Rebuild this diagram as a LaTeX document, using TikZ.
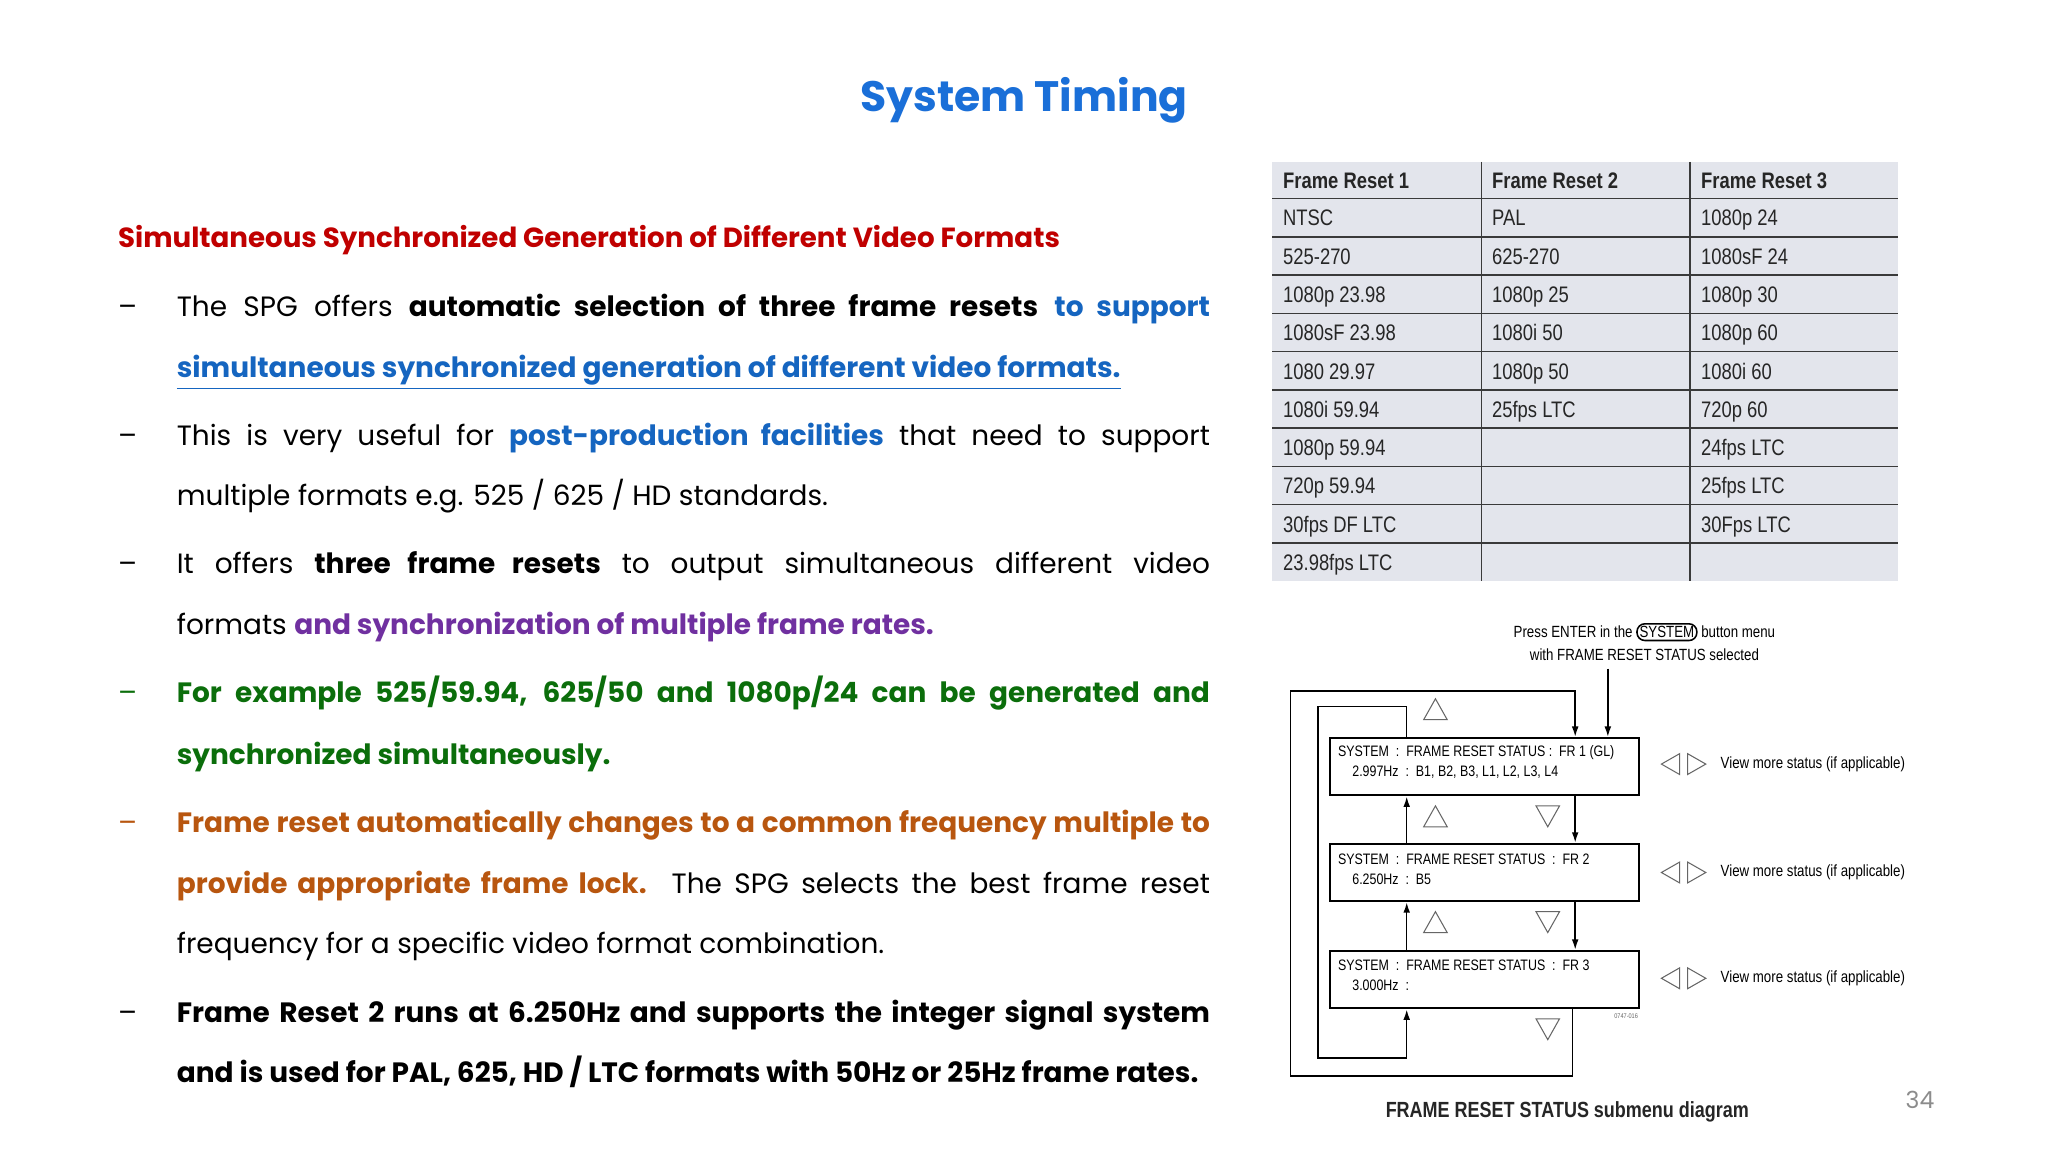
\documentclass[tikz,border=0pt]{standalone}
\usepackage{fontspec}
\setmainfont{Poppins}
\newfontfamily\narrow[FakeStretch=0.82]{Liberation Sans}
\usetikzlibrary{arrows.meta}
\definecolor{ttl}{HTML}{1A6FD8}
\definecolor{hred}{HTML}{C00000}
\definecolor{lnk}{HTML}{1565C0}
\definecolor{purp}{HTML}{7030A0}
\definecolor{grn}{HTML}{0B6E0B}
\definecolor{org}{HTML}{B8560F}
\definecolor{tbl}{HTML}{E3E5EC}
\definecolor{tline}{HTML}{3A3A3A}
\newcommand\jl[3]{\node[anchor=base west,inner sep=0] (#1) at (135,#2) {\makebox[395.5pt][s]{#3}};}
\newcommand\fl[3]{\node[anchor=base west,inner sep=0] (#1) at (135,#2) {#3};}
\newcommand\dsh[3]{\node[anchor=base west,inner sep=0,text=#3] (#1) at (90,#2) {–};}
\newcommand\uptri[2]{\draw[tri] (#1-9,#2+8) -- (#1,#2-8) -- (#1+9,#2+8) -- cycle;}
\newcommand\dntri[2]{\draw[tri] (#1-9,#2-8) -- (#1,#2+8) -- (#1+9,#2-8) -- cycle;}
\newcommand\lrtri[2]{\draw[tri] (#1-17,#2) -- (#1-3,#2-8) -- (#1-3,#2+8) -- cycle;
  \draw[tri] (#1+17,#2) -- (#1+3,#2-8) -- (#1+3,#2+8) -- cycle;}
\begin{document}
\begin{tikzpicture}[x=0.5pt,y=-0.5pt,
  body/.style={font=\fontsize{10.7}{13}\selectfont},
  cell/.style={anchor=base west,inner sep=0,font=\narrow\fontsize{8.6}{10}\selectfont,text=black!85},
  box/.style={draw,line width=0.8pt,minimum width=118.5pt,minimum height=22pt,inner sep=0},
  btxt/.style={anchor=west,inner sep=0,font=\narrow\fontsize{5.8}{7}\selectfont},
  tri/.style={draw=black!60,line width=0.4pt},
  ln/.style={line width=0.6pt},
  arr/.style={line width=0.6pt,-{Latex[length=4pt,width=2.6pt]}}]
\useasboundingbox (0,0) rectangle (1568,882);
\fill[white] (0,0) rectangle (1568,882);
\node[font=\bfseries\fontsize{16.3}{20}\selectfont,text=ttl] (title) at (784,77) {System Timing};
\node[anchor=west,inner sep=0,font=\bfseries\fontsize{10.6}{13}\selectfont,text=hred] (head) at (90,184) {Simultaneous Synchronized Generation of Different Video Formats};
\begin{scope}[every node/.append style={body}]
\dsh{d1}{242}{black}
\jl{l1}{242}{The SPG offers \textbf{automatic selection of three frame resets} \textcolor{lnk}{\textbf{to support}}}
\fl{l2}{289}{\textcolor{lnk}{\bfseries\underline{simultaneous synchronized generation of different video formats.}}}
\dsh{d2}{341}{black}
\jl{l3}{341}{This is very useful for \textcolor{lnk}{\textbf{post-production facilities}} that need to support}
\fl{l4}{387}{multiple formats e.g. 525 / 625 / HD standards.}
\dsh{d3}{439}{black}
\jl{l5}{439}{It offers \textbf{three frame resets} to output simultaneous different video}
\fl{l6}{486}{formats \textcolor{purp}{\textbf{and synchronization of multiple frame rates.}}}
\dsh{d4}{538}{grn}
\jl{l7}{538}{\color{grn}\bfseries For example 525/59.94, 625/50 and 1080p/24 can be generated and}
\fl{l8}{585}{\color{grn}\bfseries synchronized simultaneously.}
\dsh{d5}{637}{org}
\jl{l9}{637}{\color{org}\bfseries Frame reset automatically changes to a common frequency multiple to}
\jl{l10}{684}{\textcolor{org}{\textbf{provide appropriate frame lock.}} The SPG selects the best frame reset}
\fl{l11}{730}{frequency for a specific video format combination.}
\dsh{d6}{783}{black}
\jl{l12}{783}{\bfseries Frame Reset 2 runs at 6.250Hz and supports the integer signal system}
\fl{l13}{829}{\bfseries and is used for PAL, 625, HD / LTC formats with 50Hz or 25Hz frame rates.}
\end{scope}
% table
\fill[tbl] (974,124) rectangle (1453,445);
\foreach \y in {152,181.3,210.6,239.9,269.2,298.5,327.8,357.1,386.4,415.7} \draw[tline,line width=0.6pt] (974,\y) -- (1453,\y);
\draw[tline,line width=0.5pt] (1134,124) -- (1134,445) (1294,124) -- (1294,445);
\node[cell] (h1) at (982,144) {\bfseries Frame Reset 1};
\node[cell] (h2) at (1142,144) {\bfseries Frame Reset 2};
\node[cell] (h3) at (1302,144) {\bfseries Frame Reset 3};
\foreach \a/\b/\c [count=\i from 0] in {NTSC/PAL/1080p 24,525-270/625-270/1080sF 24,1080p 23.98/1080p 25/1080p 30,1080sF 23.98/1080i 50/1080p 60,1080 29.97/1080p 50/1080i 60,1080i 59.94/25fps LTC/720p 60,1080p 59.94//24fps LTC,720p 59.94//25fps LTC,30fps DF LTC//30Fps LTC,23.98fps LTC//}{
  \node[cell] (c1-\i) at (982,173+29.3*\i) {\a};
  \node[cell] (c2-\i) at (1142,173+29.3*\i) {\b};
  \node[cell] (c3-\i) at (1302,173+29.3*\i) {\c};
}
% diagram
\node[inner sep=0,font=\narrow\fontsize{6.2}{7}\selectfont] (press) at (1259,484) {Press ENTER in the \tikz[baseline=(s.base)]\node[draw,rounded corners=3pt,line width=0.6pt,inner sep=1pt] (s) {SYSTEM};\ button menu};
\node[inner sep=0,font=\narrow\fontsize{6.2}{7}\selectfont] (press2) at (1259,501) {with FRAME RESET STATUS selected};
\node[box] (b1) at (1136.5,587) {};
\node[box] (b2) at (1136.5,668) {};
\node[box] (b3) at (1136.5,750) {};
\node[btxt] (t1a) at (1024,576) {SYSTEM \ :\ \ FRAME RESET STATUS :\ \ FR 1 (GL)};
\node[btxt] (t1b) at (1035,591) {2.997Hz \ :\ \ B1, B2, B3, L1, L2, L3, L4};
\node[btxt] (t2a) at (1024,658) {SYSTEM \ :\ \ FRAME RESET STATUS \ :\ \ FR 2};
\node[btxt] (t2b) at (1035,673) {6.250Hz \ :\ \ B5};
\node[btxt] (t3a) at (1024,739) {SYSTEM \ :\ \ FRAME RESET STATUS \ :\ \ FR 3};
\node[btxt] (t3b) at (1035,754) {3.000Hz \ :};
\node[inner sep=0,font=\narrow\fontsize{2.6}{3}\selectfont,text=black!60] (code) at (1245,778) {0747-016};
\coordinate (pin) at (1231,512);
\draw[arr] (pin) -- (pin|-b1.north);
% outer loop
\draw[arr] (1204,0|-b3.south) -- (1204,824) -- (988,824) -- (988,529) -- (1206,529) -- (1206,0|-b1.north);
% inner loop
\draw[arr] (1077,0|-b1.north) -- (1077,541) -- (1009,541) -- (1009,810) -- (1077,810) -- (1077,0|-b3.south);
\draw[arr] (1077,0|-b2.north) -- (1077,0|-b1.south);
\draw[arr] (1077,0|-b3.north) -- (1077,0|-b2.south);
\draw[arr] (1206,0|-b1.south) -- (1206,0|-b2.north);
\draw[arr] (1206,0|-b2.south) -- (1206,0|-b3.north);
\uptri{1099}{543}\uptri{1099}{625}\uptri{1099}{706}
\dntri{1185}{625}\dntri{1185}{706}\dntri{1185}{788}
\foreach \y/\n in {585/1,668/2,749/3}{
  \lrtri{1289}{\y}
  \node[anchor=west,inner sep=0,font=\narrow\fontsize{6.2}{7}\selectfont] (v\n) at (1317,\y) {View more status (if applicable)};
}
\node[inner sep=0,font=\narrow\bfseries\fontsize{8.4}{10}\selectfont,text=black!85] (cap) at (1200,851) {FRAME RESET STATUS submenu diagram};
\node[inner sep=0,font=\fontsize{9}{10}\selectfont,text=black!45] (pg) at (1470,842) {34};
\end{tikzpicture}
\end{document}
